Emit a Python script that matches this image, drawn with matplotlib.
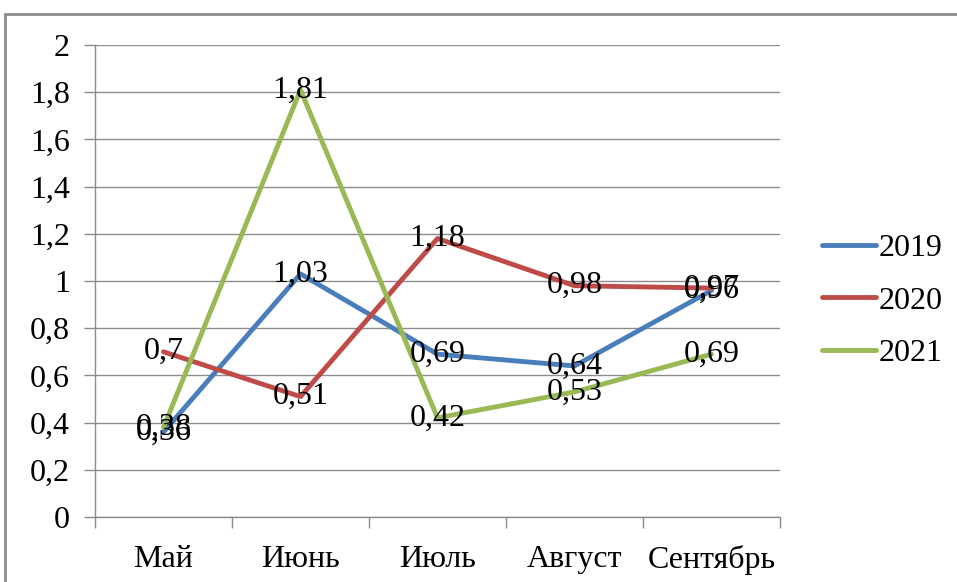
import matplotlib.pyplot as plt
from matplotlib.patches import Rectangle
from matplotlib.ticker import FixedLocator

months = ['Май', 'Июнь', 'Июль', 'Август', 'Сентябрь']
y2019 = [0.36, 1.03, 0.69, 0.64, 0.96]
y2020 = [0.7, 0.51, 1.18, 0.98, 0.97]
y2021 = [0.38, 1.81, 0.42, 0.53, 0.69]
series = [('2019', y2019, '#4A7EBB'), ('2020', y2020, '#BE4B48'), ('2021', y2021, '#98B954')]

plt.rcParams['font.family'] = ['Liberation Serif', 'DejaVu Serif']
plt.rcParams['font.size'] = 23

fig = plt.figure(figsize=(9.57, 5.82), dpi=100)
# outer chart frame
fig.patches.append(Rectangle((5 / 957, -0.1), 1.2, 1 - 14 / 582 + 0.1, transform=fig.transFigure,
                             fill=False, edgecolor='#8c8c8c', linewidth=2))
ax = fig.add_axes([95 / 957, 1 - 517 / 582, 685 / 957, 472 / 582])

x = range(len(months))
for name, vals, col in series:
    ax.plot(x, vals, color=col, linewidth=3.5, label=name, solid_capstyle='round', zorder=3)
for name, vals, col in series:
    for i, v in enumerate(vals):
        ax.text(i, v, ('%g' % v).replace('.', ','), ha='center', va='center', zorder=4)

ax.set_xlim(-0.5, len(months) - 0.5)
ax.set_ylim(0, 2)
ax.set_yticks([i * 0.2 for i in range(11)])
ax.set_yticklabels([('%g' % round(i * 0.2, 1)).replace('.', ',') for i in range(11)])
ax.set_xticks(list(x))
ax.set_xticklabels(months)
ax.xaxis.set_minor_locator(FixedLocator([i - 0.5 for i in range(len(months) + 1)]))
ax.tick_params(axis='x', which='major', length=0, pad=20)
ax.tick_params(axis='x', which='minor', length=8, color='#8c8c8c', width=1)
ax.tick_params(axis='y', length=8, color='#8c8c8c', width=1, pad=10)
ax.grid(axis='y', color='#8c8c8c', linewidth=1, zorder=0)
for s in ['top', 'right']:
    ax.spines[s].set_visible(False)
for s in ['left', 'bottom']:
    ax.spines[s].set_color('#8c8c8c')
    ax.spines[s].set_linewidth(1)

ax.legend(loc='center left', bbox_to_anchor=(1.061, 0.458), frameon=False, fontsize=23,
          handlelength=1.7, handletextpad=0.08, labelspacing=0.72, borderaxespad=0, borderpad=0)

fig.savefig('out.png', dpi=100)
